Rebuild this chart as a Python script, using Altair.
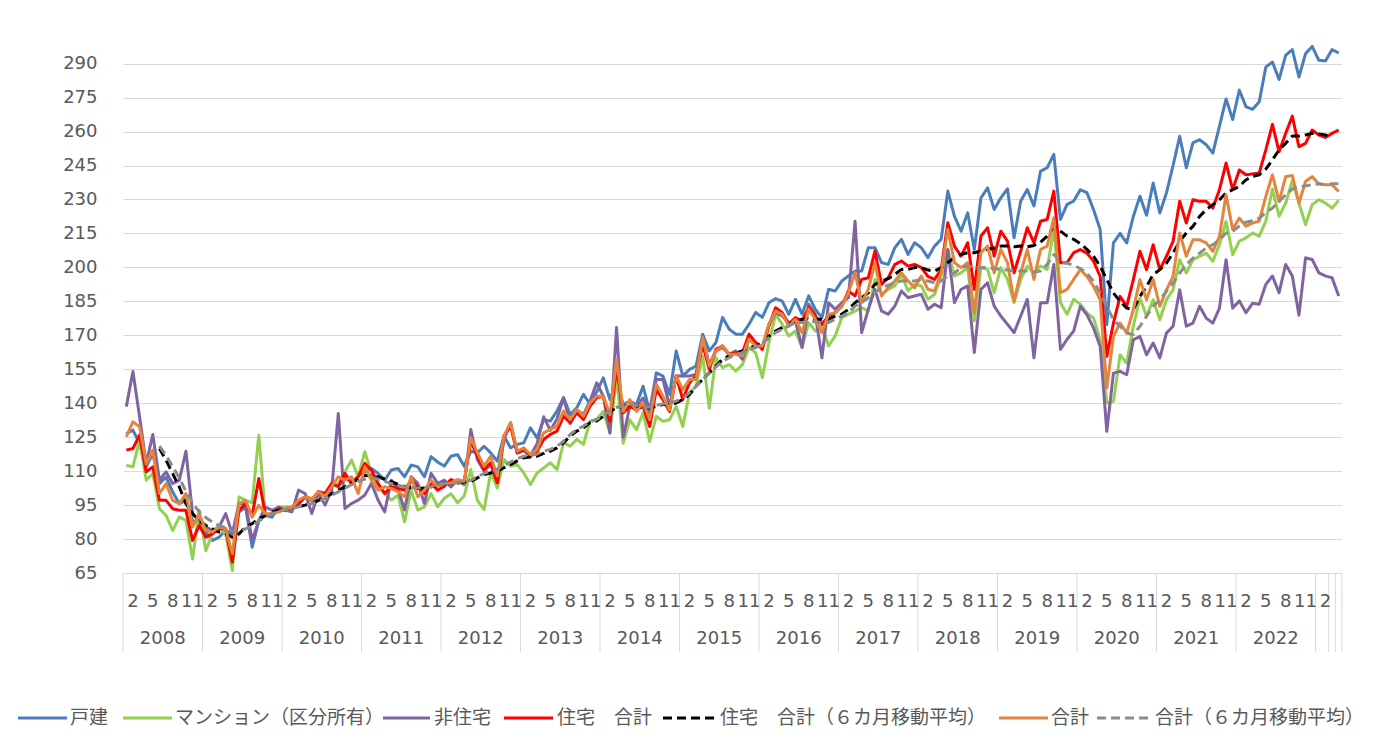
import altair as alt
import pandas as pd

# ---------------- data (monthly index, Jan-2008 ... ) ----------------
years = list(range(2008, 2023))
month_ticks = [2, 5, 8, 11]
extra_month_label = "2"          # first label of the short trailing group
n_points = 184

series_names = ["戸建", "マンション（区分所有）", "非住宅", "住宅　合計",
                "住宅　合計（６カ月移動平均）", "合計", "合計（６カ月移動平均）"]
series_colors = ["#4A7EBB", "#92D050", "#8064A2", "#FF0000", "#000000", "#E5843D", "#8C8C8C"]
series_dash = [[1, 0], [1, 0], [1, 0], [1, 0], [9, 5], [1, 0], [9, 5]]

kodate = [
    126.6, 128.1, 122.2, 111.9, 117.8, 104.5, 107.4, 100.8, 95.6, 97.1, 88.2, 86.8,
    83.1, 79.4, 80.8, 83.8, 82.3, 91.9, 94.1, 76.4, 88.2, 90.4, 89.7, 94.1,
    92.5, 94.0, 95.5, 98.5, 97.0, 101.0, 100.0, 104.0, 103.5, 108.0, 104.5, 108.0,
    109.7, 111.2, 109.0, 106.0, 110.5, 111.2, 107.5, 112.7, 111.9, 107.5, 116.4, 114.0,
    112.2, 116.6, 117.3, 112.2, 118.8, 118.1, 121.0, 118.1, 114.4, 125.5, 120.3, 121.8,
    122.5, 129.1, 124.7, 132.8, 132.1, 136.5, 142.5, 135.0, 138.0, 143.9, 139.5, 145.0,
    151.2, 141.6, 149.7, 139.4, 140.9, 139.4, 147.5, 136.4, 153.4, 152.0, 143.8, 163.1,
    152.0, 154.9, 156.4, 170.5, 163.1, 166.8, 177.9, 172.7, 170.5, 170.5, 174.9, 180.1,
    177.9, 184.4, 186.2, 185.1, 179.3, 185.9, 179.3, 187.4, 181.5, 177.8, 190.3, 189.6,
    194.0, 196.2, 198.4, 198.4, 208.7, 208.7, 202.1, 201.3, 208.7, 212.4, 205.7, 210.9,
    208.7, 204.3, 209.4, 212.4, 233.7, 222.6, 216.0, 224.1, 207.9, 230.7, 235.1, 225.6,
    230.7, 234.7, 213.1, 229.3, 234.4, 227.1, 242.5, 244.0, 249.9, 221.2, 227.8, 229.3,
    234.3, 233.0, 225.5, 216.7, 174.7, 210.8, 215.0, 210.8, 222.5, 231.4, 223.0, 237.3,
    224.0, 232.9, 245.0, 257.9, 244.0, 255.0, 256.4, 254.2, 250.5, 262.3, 274.4, 265.3,
    278.3, 271.0, 269.8, 273.1, 288.5, 290.7, 283.0, 293.7, 296.2, 284.1, 294.4, 297.6,
    291.5, 291.2, 296.2, 294.7,
]

mansion = [
    112.6, 111.9, 123.7, 106.0, 108.9, 93.4, 90.4, 83.8, 89.7, 88.2, 71.2, 92.7,
    74.9, 82.3, 85.3, 82.3, 66.1, 98.6, 97.1, 96.0, 125.9, 90.4, 91.2, 94.1,
    94.2, 93.5, 95.7, 98.7, 97.9, 100.1, 100.1, 103.1, 104.6, 109.7, 114.9, 107.5,
    118.6, 109.0, 103.1, 100.1, 97.2, 99.4, 87.6, 101.6, 92.8, 94.2, 100.1, 94.2,
    98.0, 100.0, 96.0, 99.0, 110.7, 97.0, 93.0, 109.2, 102.6, 115.1, 112.2, 112.9,
    109.2, 104.1, 109.2, 111.4, 113.7, 110.7, 122.5, 121.0, 124.0, 121.8, 132.1, 132.8,
    136.4, 126.8, 152.0, 122.3, 132.7, 128.3, 135.7, 123.1, 134.2, 132.0, 132.7, 138.6,
    129.7, 144.6, 147.5, 160.9, 137.9, 160.1, 155.7, 157.1, 154.2, 157.1, 164.6, 162.3,
    151.3, 166.8, 179.3, 174.9, 169.7, 171.9, 164.6, 175.6, 171.9, 174.1, 165.3, 169.7,
    177.8, 179.3, 180.7, 182.2, 180.7, 194.7, 188.1, 190.3, 191.8, 196.9, 189.6, 192.5,
    191.8, 185.9, 188.1, 196.2, 207.9, 196.2, 197.6, 199.9, 176.3, 199.9, 199.1, 188.8,
    199.9, 194.7, 184.4, 194.7, 200.6, 197.6, 200.6, 199.1, 217.5, 184.4, 179.3, 185.9,
    183.7, 179.8, 177.6, 168.0, 140.0, 140.8, 161.4, 157.7, 174.0, 186.5, 178.4, 185.7,
    176.9, 185.7, 190.1, 203.4, 197.5, 203.4, 204.9, 206.3, 202.7, 210.0, 220.3, 205.6,
    211.6, 213.0, 215.2, 213.8, 220.4, 234.6, 222.6, 228.4, 238.4, 228.4, 218.9, 227.7,
    229.9, 228.4, 226.2, 229.6,
]

hijutaku = [
    138.5, 154.0, 134.0, 113.3, 126.2, 106.0, 109.7, 104.5, 106.0, 118.8, 91.2, 88.2,
    85.3, 83.8, 85.3, 91.2, 82.3, 95.6, 95.6, 79.4, 88.2, 94.1, 92.7, 94.1,
    92.8, 92.0, 101.6, 100.1, 91.3, 100.1, 95.0, 101.6, 135.5, 93.5, 95.7, 97.2,
    99.4, 104.6, 97.2, 92.0, 106.0, 102.3, 92.8, 107.5, 104.6, 95.7, 109.0, 104.6,
    106.0, 103.0, 106.0, 104.0, 128.4, 115.0, 110.0, 113.0, 105.0, 124.0, 131.4, 118.0,
    119.0, 117.0, 122.0, 134.0, 128.0, 133.0, 142.4, 131.0, 137.0, 135.0, 141.0, 149.0,
    143.1, 126.8, 173.4, 125.0, 138.6, 138.6, 142.3, 135.7, 150.5, 150.5, 138.6, 152.0,
    152.0, 152.0, 152.7, 169.0, 157.1, 163.1, 164.6, 161.6, 163.1, 159.4, 168.3, 166.8,
    164.6, 174.9, 180.0, 178.5, 175.6, 176.3, 164.6, 183.7, 179.3, 160.1, 184.4, 181.5,
    184.4, 186.6, 220.4, 171.2, 181.5, 190.3, 180.7, 179.3, 182.9, 189.6, 186.6, 187.4,
    188.1, 181.5, 183.7, 182.2, 207.9, 184.4, 190.3, 191.8, 162.4, 190.3, 193.2, 182.9,
    178.5, 174.9, 171.2, 178.5, 185.9, 160.1, 184.4, 184.4, 201.3, 163.8, 168.2, 171.9,
    182.8, 179.1, 173.2, 165.1, 127.6, 153.3, 154.1, 152.6, 168.0, 169.5, 161.4, 166.6,
    160.0, 171.0, 174.0, 190.1, 174.0, 175.4, 182.8, 177.6, 175.4, 182.0, 203.4, 182.0,
    185.2, 180.0, 184.1, 183.7, 192.5, 196.2, 188.8, 201.3, 196.2, 178.9, 204.2, 203.5,
    197.6, 196.2, 195.4, 187.4,
]

jutaku = [
    119.3, 120.0, 125.9, 109.7, 111.9, 97.1, 97.1, 93.4, 92.7, 92.7, 79.4, 86.0,
    80.8, 82.3, 84.5, 84.5, 69.8, 92.7, 95.6, 90.4, 106.7, 90.4, 91.2, 93.4,
    92.8, 94.2, 95.7, 98.7, 97.2, 100.9, 100.1, 104.6, 103.1, 109.0, 104.6, 107.5,
    113.4, 110.5, 104.6, 100.1, 103.1, 102.3, 101.6, 106.0, 103.1, 100.1, 104.6, 101.6,
    103.3, 106.3, 104.8, 105.5, 123.2, 116.6, 110.7, 113.7, 104.8, 125.5, 129.9, 118.1,
    119.6, 116.6, 118.8, 124.0, 126.2, 127.7, 134.3, 131.4, 135.8, 132.8, 138.7, 142.4,
    143.1, 132.0, 155.7, 135.7, 138.6, 137.1, 138.6, 129.7, 146.0, 141.6, 136.4, 152.0,
    141.6, 149.0, 152.0, 166.0, 154.9, 163.8, 165.3, 161.6, 162.3, 162.3, 170.5, 166.8,
    163.8, 174.1, 182.2, 180.0, 174.9, 177.8, 176.3, 182.2, 178.5, 174.9, 178.5, 180.0,
    182.9, 189.6, 187.4, 194.7, 195.4, 207.2, 192.5, 195.4, 201.3, 202.8, 200.6, 201.3,
    199.9, 196.0, 194.7, 199.1, 219.7, 209.4, 205.0, 210.9, 190.3, 213.8, 217.5, 205.0,
    216.0, 211.6, 197.6, 207.2, 217.5, 210.9, 220.4, 221.2, 233.7, 202.1, 202.1, 206.5,
    207.9, 206.3, 202.7, 196.0, 160.7, 175.4, 187.2, 182.8, 194.6, 207.1, 199.0, 210.0,
    199.0, 204.9, 211.5, 229.2, 219.6, 229.9, 229.2, 229.2, 226.2, 234.3, 246.1, 234.3,
    243.0, 240.9, 241.3, 241.6, 251.9, 263.2, 251.1, 259.2, 266.8, 253.3, 254.8, 260.7,
    258.5, 257.4, 259.2, 260.7,
]

jutaku_ma = [
    None, None, None, None, None, 120.0, 114.8, 108.9, 103.0, 95.6, 91.2, 88.2,
    86.0, 84.5, 83.1, 82.3, 80.8, 82.3, 85.3, 86.8, 88.9, 90.4, 91.9, 92.7,
    93.4, 94.0, 94.2, 95.0, 96.0, 97.0, 98.7, 100.0, 101.6, 103.0, 104.6, 106.5,
    108.2, 107.8, 107.5, 106.5, 105.3, 104.2, 103.1, 102.7, 102.3, 102.5, 103.1, 103.5,
    104.8, 104.8, 104.8, 105.2, 105.5, 107.0, 108.5, 109.2, 110.0, 111.5, 112.9, 114.5,
    115.9, 116.2, 116.6, 117.8, 118.8, 120.3, 122.5, 125.5, 127.7, 129.1, 131.4, 132.1,
    134.2, 136.4, 137.9, 138.6, 139.4, 138.6, 137.9, 137.9, 138.6, 139.4, 139.4, 140.1,
    141.6, 143.8, 147.5, 150.5, 153.4, 156.4, 159.4, 160.9, 162.3, 163.1, 164.6, 165.3,
    166.8, 169.7, 171.9, 173.4, 174.9, 176.3, 177.1, 177.8, 177.1, 177.1, 177.1, 178.5,
    179.3, 181.5, 184.4, 186.6, 188.8, 192.5, 194.0, 195.0, 196.9, 199.1, 199.1, 199.9,
    199.9, 198.8, 198.4, 199.9, 202.1, 204.3, 205.7, 206.5, 206.5, 207.2, 207.9, 208.7,
    209.4, 209.4, 209.1, 209.4, 209.1, 209.7, 211.2, 213.8, 217.9, 216.0, 213.8, 212.4,
    210.5, 208.0, 204.9, 200.5, 194.6, 188.7, 185.0, 182.0, 181.3, 187.2, 191.6, 196.8,
    199.0, 201.9, 206.3, 211.5, 215.2, 218.1, 222.5, 225.5, 227.7, 229.9, 232.9, 234.3,
    235.7, 238.7, 240.1, 240.9, 243.4, 247.5, 251.9, 254.8, 258.0, 258.0, 258.5, 259.2,
    258.9, 258.5, 257.4, None,
]

goukei = [
    125.2, 131.8, 129.6, 113.3, 119.3, 100.1, 104.5, 97.1, 95.6, 100.1, 85.3, 91.2,
    83.8, 83.1, 85.3, 84.5, 73.5, 95.6, 97.1, 89.7, 94.9, 91.2, 91.2, 91.9,
    93.5, 94.0, 97.2, 98.7, 97.2, 100.9, 98.7, 103.1, 107.5, 106.0, 107.5, 100.1,
    111.9, 106.0, 101.6, 103.1, 102.3, 100.9, 98.7, 107.5, 98.7, 101.6, 106.0, 103.1,
    104.6, 104.8, 106.3, 105.5, 124.7, 118.1, 112.2, 116.6, 107.8, 125.5, 131.4, 118.8,
    120.3, 117.3, 119.6, 126.9, 128.4, 129.9, 136.5, 132.8, 137.3, 134.3, 140.1, 143.1,
    143.1, 134.9, 159.4, 136.4, 141.6, 136.4, 140.1, 132.7, 148.3, 143.1, 137.1, 152.0,
    146.0, 150.5, 150.5, 169.0, 156.4, 163.1, 165.3, 161.6, 161.6, 160.9, 168.3, 165.3,
    165.3, 174.9, 180.7, 179.3, 174.1, 177.1, 171.2, 181.5, 177.1, 171.2, 179.3, 180.0,
    182.9, 188.8, 197.6, 184.4, 190.3, 202.1, 187.4, 191.0, 194.0, 197.6, 194.0, 191.0,
    196.2, 190.3, 189.6, 197.6, 216.8, 202.1, 199.9, 202.1, 180.0, 206.5, 209.4, 197.6,
    207.9, 202.1, 185.1, 197.6, 207.9, 194.7, 207.9, 209.4, 221.9, 188.8, 190.3, 194.7,
    199.0, 196.0, 191.6, 185.7, 146.7, 169.5, 175.4, 171.0, 181.3, 194.6, 185.7, 194.6,
    182.8, 190.1, 196.0, 215.2, 204.9, 212.2, 212.2, 210.8, 207.1, 213.7, 232.1, 216.7,
    221.8, 218.2, 219.6, 220.4, 231.3, 240.9, 229.1, 240.1, 240.6, 228.4, 238.0, 240.1,
    236.9, 236.5, 236.5, 233.5,
]

goukei_ma = [
    None, None, None, None, None, 121.0, 117.0, 112.0, 107.0, 101.0, 96.0, 92.0,
    89.5, 87.5, 86.0, 85.0, 83.5, 83.1, 84.5, 86.0, 88.0, 89.7, 91.2, 92.2,
    93.0, 93.5, 94.2, 95.0, 95.7, 96.5, 98.0, 99.4, 100.8, 102.5, 104.0, 105.5,
    106.5, 106.8, 106.5, 105.5, 104.5, 103.8, 103.0, 102.7, 102.5, 102.7, 103.1, 103.8,
    104.6, 104.8, 105.0, 105.5, 106.0, 107.5, 109.0, 110.0, 111.0, 112.5, 114.0, 115.5,
    116.6, 117.0, 117.5, 118.8, 119.6, 121.0, 123.2, 126.2, 128.4, 129.9, 131.8, 132.8,
    134.5, 136.8, 138.2, 139.0, 139.7, 139.0, 138.2, 138.2, 139.0, 139.7, 140.1, 140.9,
    142.3, 144.5, 147.5, 150.5, 153.4, 156.0, 158.6, 160.1, 161.6, 162.3, 163.8, 164.6,
    166.0, 169.0, 171.2, 172.6, 174.1, 175.6, 175.6, 176.3, 175.9, 175.6, 175.6, 177.1,
    178.5, 180.0, 182.9, 184.4, 186.6, 188.8, 191.0, 192.1, 193.2, 194.0, 194.0, 194.0,
    194.7, 194.0, 193.2, 194.0, 196.2, 197.6, 199.9, 200.6, 199.9, 199.9, 199.9, 199.4,
    199.1, 198.8, 198.4, 198.4, 198.4, 197.9, 198.4, 201.3, 205.7, 202.4, 201.8, 200.9,
    199.5, 197.5, 193.8, 188.7, 182.8, 176.9, 174.0, 171.0, 170.3, 174.0, 178.4, 182.8,
    185.7, 189.4, 193.1, 197.5, 201.2, 204.1, 206.3, 208.6, 210.0, 212.2, 215.2, 215.9,
    218.2, 219.9, 220.6, 221.8, 224.3, 226.2, 229.1, 232.1, 234.6, 235.5, 236.0, 236.5,
    236.9, 236.5, 236.9, 236.9,
]

y_ticks = list(range(65, 291, 15))

# ---------------- long table ----------------
all_series = [kodate, mansion, hijutaku, jutaku, jutaku_ma, goukei, goukei_ma]
rows = []
for name, vals in zip(series_names, all_series):
    for i, v in enumerate(vals):
        if v is not None:
            rows.append({"series": name, "x": i + 0.5, "v": v})
df = pd.DataFrame(rows)

# category axis helpers (derived from the month index)
month_rows = []
for k, yr in enumerate(years):
    for m in month_ticks:
        month_rows.append({"x": 12 * k + m - 0.5, "label": str(m)})
month_rows.append({"x": 12 * len(years) + 1.5, "label": extra_month_label})
month_df = pd.DataFrame(month_rows)
year_df = pd.DataFrame({"x": [12 * k + 6 for k in range(len(years))],
                        "label": [str(y) for y in years]})
sep_df = pd.DataFrame({"x": [12 * k for k in range(len(years) + 1)] + [182, 183, 184]})

# ---------------- layout (pixels) ----------------
W, H = 1219, 532
LEFT, TOP = 115, 33
PLOT_X0 = 8 + LEFT                     # page x of the plot's left edge
LEGEND_Y = 677                         # legend row, from plot top
AXIS_FS = 18
# (line start, line end, label start) in page pixels, one per series
legend_layout = [(18, 67, 70), (123, 172, 175), (383, 430, 434), (504, 553, 557),
                 (663, 716, 720), (999, 1048, 1051), (1097, 1151, 1155)]

xscale = alt.Scale(domain=[0, n_points], nice=False, zero=False)
yscale = alt.Scale(domain=[65, 300], nice=False, zero=False)
GRID = "#D9D9D9"
TXT = "#595959"
LEGEND_FONT = "Noto Sans CJK JP"

lines = alt.Chart(df).mark_line(strokeWidth=3, strokeJoin="round").encode(
    x=alt.X("x:Q", scale=xscale, axis=None),
    y=alt.Y("v:Q", scale=yscale,
            axis=alt.Axis(values=y_ticks, title=None, domain=False, ticks=False,
                          labelFontSize=AXIS_FS, labelFont="DejaVu Sans", labelColor=TXT,
                          labelPadding=26, gridColor=GRID, gridWidth=1)),
    color=alt.Color("series:N", sort=series_names,
                    scale=alt.Scale(domain=series_names, range=series_colors),
                    legend=None),
    strokeDash=alt.StrokeDash("series:N", sort=series_names,
                              scale=alt.Scale(domain=series_names, range=series_dash),
                              legend=None),
)

seps = alt.Chart(sep_df).mark_rule(color=GRID, strokeWidth=1).encode(
    x=alt.X("x:Q", scale=xscale, axis=None),
    y=alt.value(H), y2=alt.value(H + 79),
)
months = alt.Chart(month_df).mark_text(fontSize=AXIS_FS, font="DejaVu Sans", color=TXT,
                                       align="center", baseline="middle").encode(
    x=alt.X("x:Q", scale=xscale, axis=None), y=alt.value(H + 29), text="label:N")
yrs = alt.Chart(year_df).mark_text(fontSize=AXIS_FS, font="DejaVu Sans", color=TXT,
                                   align="center", baseline="middle").encode(
    x=alt.X("x:Q", scale=xscale, axis=None), y=alt.value(H + 66), text="label:N")

# manual legend (one short line + label per series)
legend_layers = []
for name, col, dash, (lx0, lx1, tx) in zip(series_names, series_colors, series_dash, legend_layout):
    ldf = pd.DataFrame({"series": [name]})
    legend_layers.append(
        alt.Chart(ldf).mark_rule(color=col, strokeWidth=3, strokeDash=dash).encode(
            x=alt.value(lx0 - PLOT_X0), x2=alt.value(lx1 - PLOT_X0), y=alt.value(LEGEND_Y)))
    legend_layers.append(
        alt.Chart(ldf).mark_text(fontSize=19, font=LEGEND_FONT, color=TXT,
                                 align="left", baseline="middle").encode(
            x=alt.value(tx - PLOT_X0), y=alt.value(LEGEND_Y), text="series:N"))

chart = alt.layer(seps, months, yrs, lines, *legend_layers).properties(
    width=W, height=H,
    autosize=alt.AutoSizeParams(type="none"),
    padding={"left": LEFT, "top": TOP, "right": 37, "bottom": 163},
    background="white",
).configure_view(stroke=None)

chart.save("out.html", embed_options={"renderer": "svg", "actions": False})
